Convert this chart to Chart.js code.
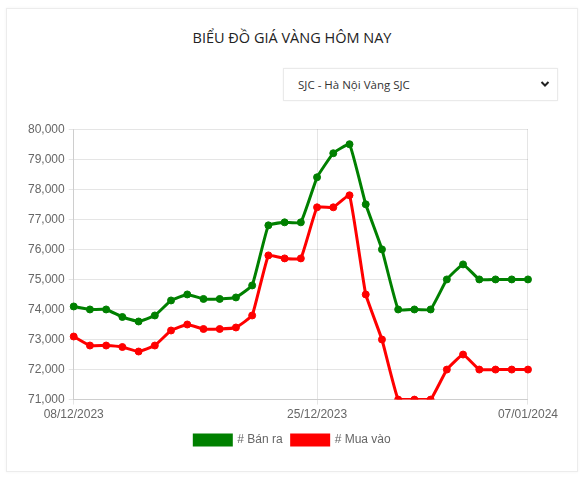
<!DOCTYPE html>
<html lang="vi">
<head>
<meta charset="utf-8">
<title>Biểu đồ giá vàng hôm nay</title>
<script src="https://cdn.jsdelivr.net/npm/chart.js@4.4.1/dist/chart.umd.min.js"></script>
<style>
  body { margin: 0; background: #fff; font-family: "Open Sans", "Noto Sans", sans-serif; }
  .card { position: absolute; left: 6px; top: 8px; width: 570px; height: 462px; border: 1px solid #ececec; box-shadow: 0 0 3px rgba(0,0,0,0.05); background: #fff; }
  .title { position: absolute; left: 6px; width: 572px; top: 28px; text-align: center; font-size: 14.5px; font-weight: 500; color: #222; }
  .select { position: absolute; left: 283px; top: 68px; width: 273px; height: 31px; border: 1px solid #eaeaea; box-shadow: 0 0 2px rgba(0,0,0,0.05); background: #fff; font-size: 11.5px; color: #333; line-height: 31px; }
  .select span { position: absolute; left: 14px; }
  .select svg { position: absolute; right: 7px; top: 11px; }
  .chart-box { position: absolute; left: 16px; top: 118px; width: 545px; height: 344px; }
</style>
</head>
<body>
<div class="card"></div>
<div class="title">BIỂU ĐỒ GIÁ VÀNG HÔM NAY</div>
<div class="select"><span>SJC - Hà Nội Vàng SJC</span>
  <svg width="10" height="8" viewBox="0 0 10 8"><path d="M1.5 2 L5 5.5 L8.5 2" stroke="#222" stroke-width="2" fill="none"/></svg>
</div>
<div class="chart-box"><canvas id="giaVangChart"></canvas></div>

<script>
// ngày giao dịch
const dates = [
    '08/12/2023', '09/12/2023', '11/12/2023', '12/12/2023', '13/12/2023', '14/12/2023', '15/12/2023', '16/12/2023',
    '18/12/2023', '19/12/2023', '20/12/2023', '21/12/2023', '22/12/2023', '23/12/2023', '24/12/2023', '25/12/2023',
    '26/12/2023', '27/12/2023', '28/12/2023', '29/12/2023', '30/12/2023', '31/12/2023',
    '01/01/2024', '02/01/2024', '03/01/2024', '04/01/2024', '05/01/2024', '06/01/2024', '07/01/2024'
];
// nhãn trục X được hiển thị
const shownLabels = ['08/12/2023', '25/12/2023', '07/01/2024'];

// giá bán ra / mua vào (nghìn đồng/lượng)
const banRa = [
    74100, 74000, 74000, 73750, 73600, 73800, 74300, 74500,
    74350, 74350, 74400, 74800, 76800, 76900, 76900, 78400,
    79200, 79500, 77500, 76000, 74000, 74000,
    74000, 75000, 75500, 75000, 75000, 75000, 75000
];
const muaVao = [
    73100, 72800, 72800, 72750, 72600, 72800, 73300, 73500,
    73350, 73350, 73400, 73800, 75800, 75700, 75700, 77400,
    77400, 77800, 74500, 73000, 71000, 71000,
    71000, 72000, 72500, 72000, 72000, 72000, 72000
];

const yMin = 71000;
const yMax = 80000;

function initializeChartGiaVang() {
    var ctx = document.getElementById('giaVangChart').getContext('2d');
    var chart = new Chart(ctx, {
        type: 'line',
        data: {
            labels: dates,
            datasets: [{
                label: '# Bán ra',
                data: banRa,
                borderColor: '#008000',
                backgroundColor: '#008000',
                borderWidth: 3,
                pointRadius: 3.5,
                pointBorderWidth: 1,
                tension: 0.1,
                fill: false
            },
            {
                label: '# Mua vào',
                data: muaVao,
                borderColor: '#ff0000',
                backgroundColor: '#ff0000',
                borderWidth: 3,
                pointRadius: 3.5,
                pointBorderWidth: 1,
                tension: 0.1,
                fill: false
            }]
        },
        options: {
            responsive: true,
            maintainAspectRatio: false,
            animation: false,
            layout: {
                padding: { left: 8, right: 0, top: 7, bottom: 6 }
            },
            scales: {
                x: {
                    afterBuildTicks: function (axis) {
                        // chỉ giữ ngày đầu, giữa và cuối
                        axis.ticks = axis.ticks.filter(t => shownLabels.includes(dates[t.value]));
                    },
                    ticks: {
                        autoSkip: false,
                        maxRotation: 0,
                        color: '#666',
                        padding: 3,
                        font: { family: "'Liberation Sans', Arial, sans-serif", size: 12 }
                    },
                    grid: { color: 'rgba(0,0,0,0.1)', tickLength: 5 },
                    border: { color: 'rgba(0,0,0,0.1)' }
                },
                y: {
                    min: yMin,
                    max: yMax,
                    ticks: {
                        stepSize: 1000,
                        color: '#666',
                        padding: 4,
                        font: { family: "'Liberation Sans', Arial, sans-serif", size: 12 },
                        callback: v => v.toLocaleString('en-US')
                    },
                    grid: { color: 'rgba(0,0,0,0.1)', tickLength: 5 },
                    border: { color: 'rgba(0,0,0,0.1)' }
                }
            },
            plugins: {
                legend: {
                    position: 'bottom',
                    labels: {
                        boxWidth: 37,
                        boxHeight: 10,
                        padding: 9,
                        color: '#666',
                        font: { family: "'Liberation Sans', Arial, sans-serif", size: 12 }
                    }
                },
                tooltip: { enabled: true, mode: 'index', intersect: false }
            }
        }
    });
    return chart;
}

initializeChartGiaVang();
</script>
</body>
</html>
